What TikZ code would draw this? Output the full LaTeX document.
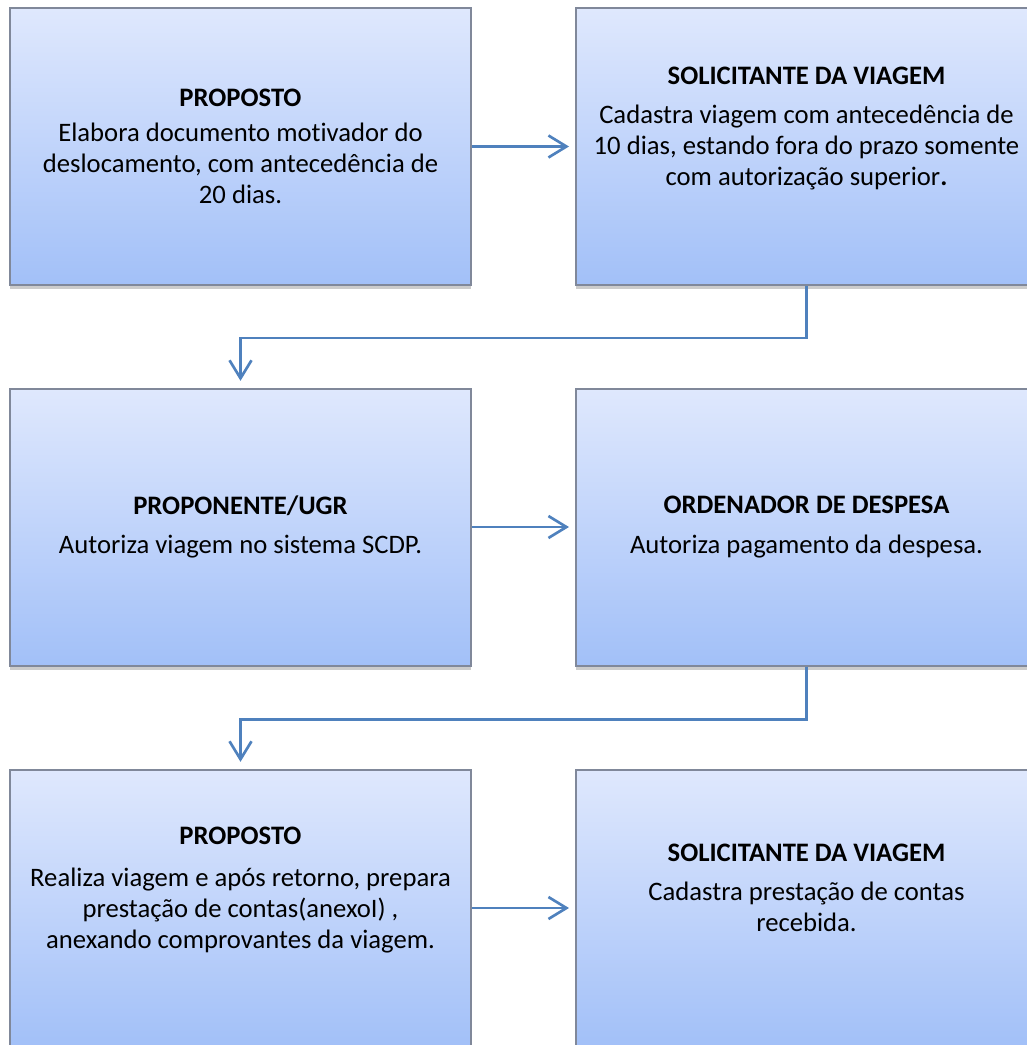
\documentclass[tikz,border=0pt]{standalone}
\usepackage{fontspec}
\setmainfont{Carlito}[Ligatures={NoCommon}]
\usepackage{xcolor}
\usetikzlibrary{arrows.meta, shadows}

\definecolor{boxtop}{HTML}{DFE8FD}
\definecolor{boxbot}{HTML}{A2C0F8}
\definecolor{boxline}{HTML}{80889A}
\definecolor{arrblue}{HTML}{4F81BD}

\begin{document}
\begin{tikzpicture}[x=0.75pt, y=-0.75pt,
  stage/.style={draw=boxline, line width=1.5pt, top color=boxtop, bottom color=boxbot,
                minimum width=345.75pt, minimum height=207.75pt, inner sep=0pt,
                align=center, font=\fontsize{20}{23.3}\selectfont,
                drop shadow={shadow xshift=0pt, shadow yshift=-3pt, opacity=0.4}},
  arr/.style={draw=arrblue, line width=2pt,
              -{Straight Barb[length=13.5pt, width=16.5pt]}}]

  \useasboundingbox (0,0) rectangle (1027,1045);

  % row 1
  \node[stage] (prop1) at (240.5,146.5) {\textbf{PROPOSTO}\\[3pt]
    Elabora documento motivador do\\ deslocamento, com antecedência de\\ 20 dias.};
  \node[stage] (sol1) at (806.5,146.5) {\textbf{SOLICITANTE DA VIAGEM}\\[6.5pt]
    Cadastra viagem com antecedência de\\ 10 dias, estando fora do prazo somente\\
    com autorização superior\textbf{.}\\ \strut};

  % row 2
  \node[stage] (ugr) at (240.5,527) {\textbf{PROPONENTE/UGR}\\[6.5pt]
    Autoriza viagem no sistema SCDP.};
  \node[stage] (ord) at (806.5,527) {\textbf{ORDENADOR DE DESPESA}\\[6.5pt]
    Autoriza pagamento da despesa.};

  % row 3
  \node[stage] (prop2) at (240.5,908) {\textbf{PROPOSTO}\\[7.5pt]
    Realiza viagem e após retorno, prepara\\ prestação de contas(anexoI) ,\\
    anexando comprovantes da viagem.\\ \strut};
  \node[stage] (sol2) at (806.5,908) {\textbf{SOLICITANTE DA VIAGEM}\\[6.5pt]
    Cadastra prestação de contas\\ recebida.\\ \strut};

  \draw[arr, shorten >=4.5pt] (prop1) -- (sol1);
  \draw[arr, shorten >=5pt] (sol1.south) -- ++(0,52) -| (ugr.north);
  \draw[arr, shorten >=4.5pt] (ugr) -- (ord);
  \draw[arr, shorten >=5pt] (ord.south) -- ++(0,53) -| (prop2.north);
  \draw[arr, shorten >=4.5pt] (prop2) -- (sol2);
\end{tikzpicture}
\end{document}
